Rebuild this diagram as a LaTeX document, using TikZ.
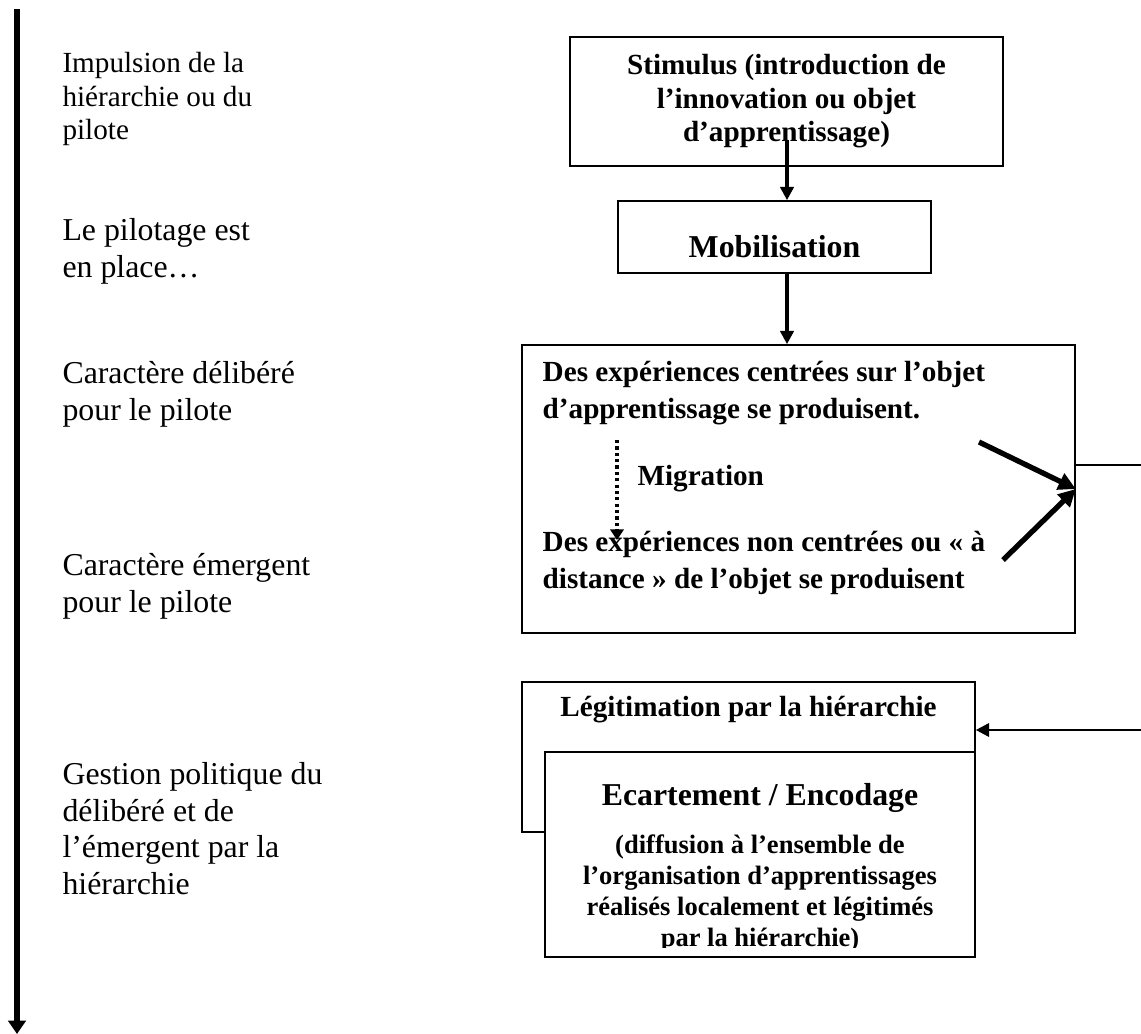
\documentclass[tikz,border=0pt]{standalone}
\usepackage{fontspec}
\setmainfont{Liberation Serif}
\usetikzlibrary{arrows.meta, positioning, calc}

\newlength{\px}
\setlength{\px}{0.377pt}

\begin{document}
\begin{tikzpicture}[
  x=0.377pt, y=-0.377pt,
  box/.style={rectangle, draw, line width=0.6pt, inner sep=0pt, fill=white},
  boxtext/.style={font=\fontsize{11}{12.65}\selectfont\bfseries, align=center, inner sep=0pt},
  exptext/.style={font=\fontsize{11}{13.95}\selectfont\bfseries, align=left, inner sep=0pt},
  side/.style={font=\fontsize{12}{13.8}\selectfont, align=left, anchor=north west, inner sep=0pt},
  arrow/.style={-{Triangle[length=5pt, width=5pt]}, line width=1.3pt},
  fatarrow/.style={-{Triangle[length=6.5pt, width=6.5pt]}, line width=2pt},
  link/.style={line width=1pt},
  dotarrow/.style={-{Triangle[length=4pt, width=5pt]}, line width=1.2pt, dash pattern=on 1.2pt off 1.2pt},
]
  \useasboundingbox (0,0) rectangle (1141,1034);

  % time line on the left
  \coordinate (ttop) at (17,9);
  \coordinate (tend) at (17,1034);
  \draw[-{Triangle[length=5pt, width=6.5pt]}, line width=2.4pt] (ttop) -- (tend);

  \node[side, font=\fontsize{11}{12.6}\selectfont] (impulse) at (62,52) {Impulsion de la\\hiérarchie ou du\\pilote};
  \node[side] (pilot) at (62,218) {Le pilotage est\\en place…};
  \node[side] (delib) at (62,361) {Caractère délibéré\\pour le pilote};
  \node[side] (emerg) at (62,553) {Caractère émergent\\pour le pilote};
  \node[side] (gestion) at (62,762) {Gestion politique du\\délibéré et de\\l’émergent par la\\hiérarchie};

  % process boxes
  \node[box, boxtext, minimum width=433\px, minimum height=129\px] (stim) at (786.5,101.5)
    {Stimulus (introduction de\\l’innovation ou objet\\d’apprentissage)};
  \node[box, font=\fontsize{12}{13.8}\selectfont\bfseries, minimum width=313\px, minimum height=72\px,
        text height=15.8pt, text depth=0pt] (mob) at (774.5,237) {Mobilisation};

  \node[box, minimum width=553\px, minimum height=288\px] (exp) at (798.5,489) {};
  \node[exptext, below right=16\px and 21\px of exp.north west] (ctr)
    {Des expériences centrées sur l’objet\\d’apprentissage se produisent.};
  \node[exptext, below right=186\px and 21\px of exp.north west] (dist)
    {Des expériences non centrées ou «~à\\distance~» de l’objet se produisent};
  \node[boxtext, anchor=west] (migr) at (637,479) {Migration};

  \coordinate (mtop) at (617,440);
  \coordinate (mbot) at (617,540);
  \draw[dotarrow] (mtop) -- (mbot);

  \coordinate (s1) at (787,140);
  \draw[arrow] (s1) -- (s1 |- mob.north);
  \draw[arrow] (mob.south -| s1) -- (s1 |- exp.north);

  \coordinate (d1) at (979,442);
  \coordinate (d2) at (1003,560);
  \draw[fatarrow] (d1) -- (exp.east);
  \draw[fatarrow] (d2) -- (exp.east);

  \coordinate (rtop) at (1141,465);
  \coordinate (rbot) at (1141,730);
  \draw[link] (exp.east |- rtop) -- (rtop);

  \node[box, minimum width=453\px, minimum height=150\px] (legit) at (748.5,757) {};
  \node[boxtext, below=14\px of legit.north] (legtxt) {Légitimation par la hiérarchie};
  \draw[arrow, line width=1pt] (rbot) -- (legit.east |- rbot);

  \node[box, minimum width=430\px, minimum height=205\px] (ecart) at (760,854.5) {};
  \node[boxtext, font=\fontsize{12}{13.8}\selectfont\bfseries, below=32\px of ecart.north] (ectitle)
    {Ecartement / Encodage};
  \begin{scope}
    \clip (ecart.north west) rectangle ($(ecart.south east)+(0,-10)$);
    \node[boxtext, font=\fontsize{10}{11.75}\selectfont\bfseries, below=83\px of ecart.north] (ecsub)
      {(diffusion à l’ensemble de\\l’organisation d’apprentissages\\réalisés localement et légitimés\\par la hiérarchie)};
  \end{scope}
\end{tikzpicture}
\end{document}
